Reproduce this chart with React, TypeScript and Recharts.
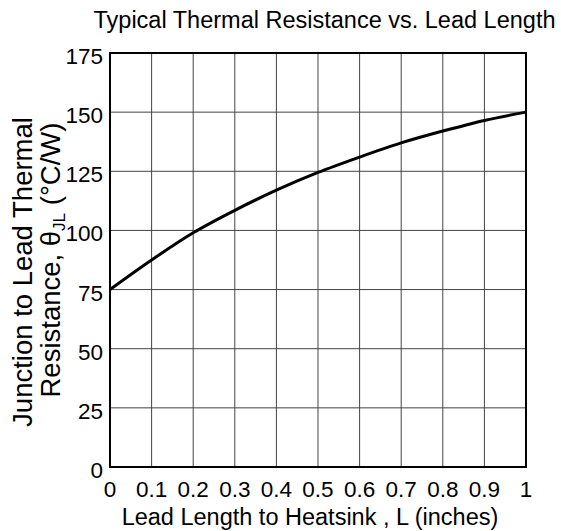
import { CartesianGrid, Line, LineChart, ReferenceArea, XAxis, YAxis } from 'recharts';

// lead length (inches) vs junction-to-lead thermal resistance (°C/W)
const leadLength = [0, 0.1, 0.2, 0.3, 0.4, 0.5, 0.6, 0.7, 0.8, 0.9, 1];
const thetaJL = [75, 87.5, 99, 108.5, 117, 124.5, 131, 137, 142, 146.5, 150];
const xTicks = [0, 0.1, 0.2, 0.3, 0.4, 0.5, 0.6, 0.7, 0.8, 0.9, 1];
const yTicks = [0, 25, 50, 75, 100, 125, 150, 175];

const title = 'Typical Thermal Resistance vs. Lead Length';
const xTitle = 'Lead Length to Heatsink , L (inches)';

const data = leadLength.map((l, i) => ({ l, r: thetaJL[i] }));

const font = '"Liberation Sans", Arial, sans-serif';
const xTickStyle = { fill: '#000', fontSize: 22.5, fontFamily: font };
const yTickStyle = { fill: '#000', fontSize: 22.5, fontFamily: font, dy: 3 };

function XLabel(props: any) {
  const vb = props.viewBox || { x: 110, y: 467, width: 416, height: 64 };
  return (
    <text x={vb.x + vb.width / 2 - 8} y={vb.y + 58} textAnchor="middle" fontSize={23.5} fontFamily={font} fill="#000">
      {xTitle}
    </text>
  );
}

function YLabel(props: any) {
  const vb = props.viewBox || { x: 0, y: 53, width: 110, height: 414 };
  const cy = vb.y + vb.height / 2;
  return (
    <g fontSize={27.5} fontFamily={font} fill="#000">
      <text transform={`translate(32, ${cy + 12}) rotate(-90)`} textAnchor="middle">
        Junction to Lead Thermal
      </text>
      <text transform={`translate(60, ${cy}) rotate(-90)`} textAnchor="middle">
        Resistance, θ
        <tspan dy={5} fontSize={17}>JL</tspan>
        <tspan dy={-5}> (°C/W)</tspan>
      </text>
    </g>
  );
}

export default function App() {
  return (
    <div style={{ position: 'absolute', left: 0, top: 0, width: 561, height: 531, background: '#fff' }}>
      <div
        style={{
          position: 'absolute',
          left: 92,
          top: 7,
          width: 465,
          textAlign: 'center',
          fontFamily: font,
          fontSize: 23.5,
          whiteSpace: 'nowrap',
          color: '#000',
        }}
      >
        {title}
      </div>
      <LineChart width={561} height={531} data={data} margin={{ top: 53, right: 35, bottom: 0, left: 0 }}>
        <CartesianGrid stroke="#444" strokeWidth={1} />
        <XAxis
          dataKey="l"
          type="number"
          domain={[0, 1]}
          ticks={xTicks}
          interval={0}
          height={64}
          tickSize={0}
          tickLine={false}
          tickMargin={14}
          fontSize={22.5}
          axisLine={{ stroke: '#000', strokeWidth: 2 }}
          tick={xTickStyle}
          label={XLabel}
        />
        <YAxis
          type="number"
          domain={[0, 175]}
          ticks={yTicks}
          interval={0}
          width={110}
          tickSize={0}
          tickLine={false}
          tickMargin={7}
          fontSize={22.5}
          axisLine={{ stroke: '#000', strokeWidth: 2 }}
          tick={yTickStyle}
          label={YLabel}
        />
        <ReferenceArea x1={0} x2={1} y1={0} y2={175} fill="none" stroke="#000" strokeWidth={2} />
        <Line
          dataKey="r"
          type="monotone"
          stroke="#000"
          strokeWidth={3}
          dot={false}
          isAnimationActive={false}
        />
      </LineChart>
    </div>
  );
}
